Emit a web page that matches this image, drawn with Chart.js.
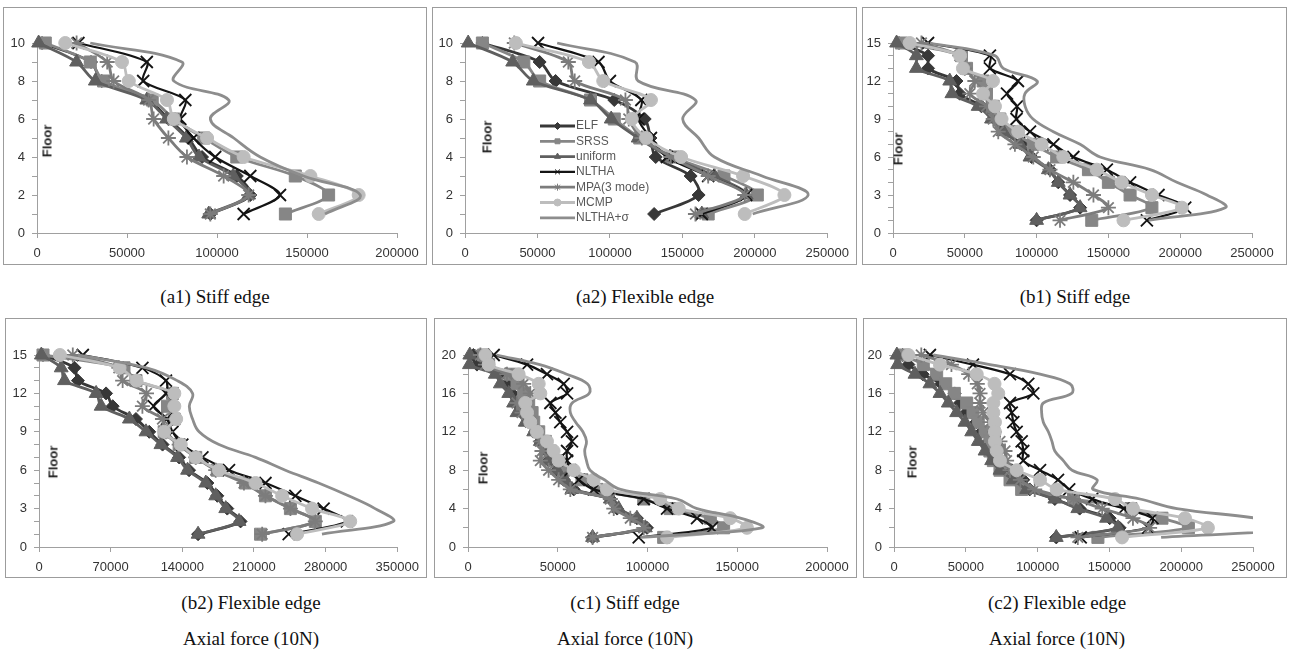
<!DOCTYPE html>
<html>
<head>
<meta charset="utf-8">
<script src="https://cdn.jsdelivr.net/npm/chart.js@4.4.0/dist/chart.umd.min.js"></script>
<style>
body { margin: 0; background: #fff; width: 1290px; height: 653px; position: relative; overflow: hidden; }
.box { position: absolute; border: 1px solid #9c9c9c; box-sizing: border-box; }
canvas { position: absolute; }
.floor { position: absolute; font: bold 13px "Liberation Sans", Arial, sans-serif; color: #222; transform: translate(-50%, -50%) rotate(-90deg); white-space: nowrap; }
.cap { position: absolute; font: 19px "Liberation Serif", "Times New Roman", serif; color: #111; transform: translate(-50%, -50%); white-space: nowrap; }
</style>
</head>
<body>
<script>
// floors (top to bottom)
const floors10 = [10, 9, 8, 7, 6, 5, 4, 3, 2, 1];
const floors15 = [15, 14, 13, 12, 11, 10, 9, 8, 7, 6, 5, 4, 3, 2, 1];
const floors20 = [20, 19, 18, 17, 16, 15, 14, 13, 12, 11, 10, 9, 8, 7, 6, 5, 4, 3, 2, 1];

const seriesNames = ['ELF', 'SRSS', 'uniform', 'NLTHA', 'MPA(3 mode)', 'MCMP', 'NLTHA+σ'];

// (a1) stiff edge, 10 floors
const a1ELF = [2800, 30000, 36000, 62000, 73000, 84000, 91700, 111000, 118500, 96300];
const a1SRSS = [4600, 29600, 37000, 64000, 76000, 92600, 111000, 143500, 162000, 138000];
const a1Uniform = [900, 22000, 32400, 61000, 72000, 83000, 90000, 109000, 117600, 95400];
const a1NLTHA = [23000, 61000, 59000, 82400, 79600, 87000, 99000, 118500, 135000, 114800];
const a1MPA = [22000, 39000, 42600, 62000, 64800, 73000, 83300, 103700, 117600, 96300];
const a1MCMP = [15700, 47200, 51000, 72200, 76000, 94500, 114800, 151900, 178700, 156500];
const a1Sigma = [29600, 80500, 76000, 106500, 96300, 109300, 124000, 148000, 179600, 160000];

// (a2) flexible edge, 10 floors
const a2ELF = [12000, 51500, 62500, 103000, 124000, 128000, 131600, 155700, 161200, 130500];
const a2SRSS = [12000, 40600, 51500, 86600, 103000, 120600, 143600, 178700, 201700, 167800];
const a2Uniform = [2200, 32900, 47100, 86600, 100900, 119500, 141400, 172000, 194000, 163400];
const a2NLTHA = [50400, 92100, 100000, 121700, 119500, 128300, 139300, 167800, 194000, 163400];
const a2MPA = [34000, 71300, 75700, 110700, 113000, 122000, 142000, 167800, 193000, 159000];
const a2MCMP = [35100, 85500, 95400, 128300, 115100, 125000, 149100, 191900, 220400, 193000];
const a2Sigma = [63600, 117300, 119500, 159000, 150200, 161200, 172100, 205000, 236800, 198500];

// (b1) stiff edge, 15 floors
const b1ELF = [4200, 24400, 24400, 44200, 46500, 61600, 70900, 77900, 89600, 96500, 109300, 115100, 123300, 130300, 100000];
const b1SRSS = [5800, 47700, 51200, 62800, 65100, 69800, 74400, 82600, 97700, 114000, 136100, 150000, 165100, 180300, 138400];
const b1Uniform = [2500, 16300, 16300, 39500, 41000, 59300, 68600, 76800, 88400, 95400, 108200, 115100, 123300, 130300, 100000];
const b1NLTHA = [24400, 67500, 67500, 87000, 79400, 86300, 86000, 95400, 111700, 125600, 148900, 165100, 184900, 203500, 176800];
const b1MPA = [19800, 46500, 50000, 57000, 53500, 65100, 69800, 73300, 84900, 97700, 109300, 125600, 139600, 150000, 116300];
const b1MCMP = [11600, 46700, 48700, 69600, 62700, 71000, 75600, 87200, 103500, 118600, 141900, 159300, 180300, 201200, 160500];
const b1Sigma = [25600, 70900, 76800, 100300, 91900, 92000, 97500, 111700, 130300, 144200, 179100, 197700, 218600, 231400, 178000];

// (b2) flexible edge, 15 floors
const b2ELF = [3900, 34700, 38000, 65500, 72000, 94700, 107700, 120700, 136900, 146600, 164500, 174200, 183900, 196900, 155400];
const b2SRSS = [3900, 83000, 94700, 130400, 125500, 132000, 122300, 136900, 153100, 174200, 201800, 221200, 245600, 269900, 216400];
const b2Uniform = [2300, 21700, 24900, 55800, 60700, 88300, 104500, 119100, 135300, 145100, 162900, 172600, 182400, 195400, 155400];
const b2NLTHA = [42800, 101000, 124000, 124000, 112000, 125000, 130400, 140000, 159600, 185600, 221200, 250400, 278000, 300700, 243900];
const b2MPA = [33000, 78000, 81700, 105000, 101000, 120600, 123900, 136900, 153100, 172600, 200200, 221200, 245600, 269900, 218000];
const b2MCMP = [20400, 78700, 95300, 132200, 132200, 134000, 122300, 138500, 153100, 175800, 211500, 237500, 266700, 304000, 252100];
const b2Sigma = [38000, 105000, 135000, 150000, 146800, 150000, 156400, 175800, 211500, 240700, 273100, 302300, 328300, 346100, 276400];

// (c1) stiff edge, 20 floors
const c1ELF = [3000, 5000, 20800, 21700, 24500, 29200, 32900, 34700, 37500, 40300, 44000, 44900, 49600, 53300, 58900, 79300, 83000, 94100, 99700, 69400];
const c1SRSS = [8700, 11500, 23600, 27300, 31000, 33800, 35700, 36600, 39400, 43100, 45900, 48700, 53300, 63500, 71900, 97900, 112700, 135000, 142400, 109000];
const c1Uniform = [1000, 800, 15200, 18000, 22700, 25400, 27300, 31900, 36600, 40300, 43100, 44900, 49600, 54200, 57900, 79300, 83900, 94100, 98800, 69400];
const c1NLTHA = [14300, 32900, 44000, 53300, 55200, 45900, 48700, 51400, 55200, 57900, 55200, 55200, 57000, 61700, 70000, 97900, 110900, 127600, 135900, 95100];
const c1MPA = [6900, 9700, 21700, 31000, 34700, 27300, 30100, 34700, 38400, 40300, 41200, 40300, 44900, 50500, 57000, 79300, 81200, 90400, 97900, 69400];
const c1MCMP = [9700, 11500, 28200, 39400, 40300, 31900, 32900, 34700, 38400, 44000, 47700, 50500, 58900, 70000, 77400, 107100, 117400, 146100, 155400, 110900];
const c1Sigma = [16000, 40000, 55000, 66500, 67500, 58000, 57000, 60000, 64000, 66000, 65000, 66000, 68000, 76000, 85000, 116400, 127600, 151700, 163800, 96000];

// (c2) flexible edge, 20 floors
const c2ELF = [6000, 10000, 20000, 33000, 42200, 46000, 50400, 57300, 61000, 66000, 70000, 75000, 82000, 90000, 94500, 112000, 129300, 150200, 157100, 113000];
const c2SRSS = [6500, 20400, 29700, 36000, 42000, 50600, 55000, 58700, 63400, 66800, 66800, 69200, 73800, 80800, 88900, 125000, 165000, 186600, 205000, 142000];
const c2Uniform = [2000, 2500, 14600, 25000, 32000, 37800, 43600, 49400, 54100, 58700, 63400, 68000, 73800, 83100, 92400, 112000, 128000, 148000, 156000, 113000];
const c2NLTHA = [25000, 55000, 80800, 93500, 97000, 80800, 82000, 83100, 85400, 88900, 90000, 90000, 101700, 114200, 122000, 138000, 160000, 180000, 177000, 130000];
const c2MPA = [19000, 40000, 52000, 58000, 59900, 59900, 62000, 66800, 70000, 73800, 77300, 78400, 80800, 88000, 98000, 125000, 145000, 166400, 178000, 128000];
const c2MCMP = [10000, 32000, 57600, 70000, 72600, 69200, 69200, 70300, 70300, 70300, 71500, 73800, 85400, 101700, 113300, 153900, 166400, 202600, 218600, 158800];
const c2Sigma = [27400, 66800, 101700, 122500, 123700, 104000, 102800, 104000, 107500, 110000, 112000, 117900, 124000, 141400, 138600, 171300, 197000, 252000, 285000, 186000];

// styles per series
const seriesStyle = [
    { color: '#383838', point: 'rectRot', radius: 6.5, width: 2.8 },
    { color: '#868686', point: 'rect', radius: 8.5, width: 2.8 },
    { color: '#5f5f5f', point: 'triangle', radius: 8, width: 2.8 },
    { color: '#141414', point: 'crossRot', radius: 8.5, width: 2.2 },
    { color: '#7c7c7c', point: 'star', radius: 7.5, width: 2.8 },
    { color: '#bdbdbd', point: 'circle', radius: 6.5, width: 2.8 },
    { color: '#8d8d8d', point: false, radius: 0, width: 2.8 }
];

const panels = [
    { floors: floors10, series: [a1ELF, a1SRSS, a1Uniform, a1NLTHA, a1MPA, a1MCMP, a1Sigma],
      xMax: 200000, xStep: 50000, yMax: 10, yMajor: 2, yMinor: 1,
      box: [3, 7, 424, 258], area: [37, 397, 43, 233], floorAt: [47, 141],
      caption: ['(a1) Stiff edge'], capX: 215, capY: 297 },
    { floors: floors10, series: [a2ELF, a2SRSS, a2Uniform, a2NLTHA, a2MPA, a2MCMP, a2Sigma],
      xMax: 250000, xStep: 50000, yMax: 10, yMajor: 2, yMinor: 1,
      box: [432, 7, 425, 258], area: [465, 845, 43, 233], floorAt: [487, 137], legend: true,
      caption: ['(a2) Flexible edge'], capX: 645, capY: 297 },
    { floors: floors15, series: [b1ELF, b1SRSS, b1Uniform, b1NLTHA, b1MPA, b1MCMP, b1Sigma],
      xMax: 250000, xStep: 50000, yMax: 15, yMajor: 3, yMinor: 1,
      box: [862, 7, 425, 258], area: [893, 1252, 43, 233], floorAt: [898, 149],
      caption: ['(b1) Stiff edge'], capX: 1075, capY: 297 },
    { floors: floors15, series: [b2ELF, b2SRSS, b2Uniform, b2NLTHA, b2MPA, b2MCMP, b2Sigma],
      xMax: 350000, xStep: 70000, yMax: 15, yMajor: 3, yMinor: 1,
      box: [5, 318, 422, 260], area: [39, 399, 355, 547], floorAt: [53, 462],
      caption: ['(b2) Flexible edge', 'Axial force (10N)'], capX: 251, capY: 603 },
    { floors: floors20, series: [c1ELF, c1SRSS, c1Uniform, c1NLTHA, c1MPA, c1MCMP, c1Sigma],
      xMax: 200000, xStep: 50000, yMax: 20, yMajor: 4, yMinor: 2,
      box: [434, 318, 423, 260], area: [468, 827, 355, 547], floorAt: [483, 468],
      caption: ['(c1) Stiff edge', 'Axial force (10N)'], capX: 625, capY: 603 },
    { floors: floors20, series: [c2ELF, c2SRSS, c2Uniform, c2NLTHA, c2MPA, c2MCMP, c2Sigma],
      xMax: 250000, xStep: 50000, yMax: 20, yMajor: 4, yMinor: 2,
      box: [863, 318, 424, 260], area: [894, 1253, 355, 547], floorAt: [912, 462],
      caption: ['(c2) Flexible edge', 'Axial force (10N)'], capX: 1057, capY: 603 }
];

// legend drawn inside the plot area, like the original
const insideLegend = {
    id: 'insideLegend',
    afterDatasetsDraw(chart, args, opts) {
        if (!opts.show) return;
        const ctx = chart.ctx;
        const area = chart.chartArea;
        ctx.save();
        chart.data.datasets.forEach((ds, i) => {
            const st = seriesStyle[i];
            const y = area.top + 83 + i * 15.3;
            const x0 = area.left + 75;
            const x1 = x0 + 35;
            ctx.strokeStyle = st.color;
            ctx.lineWidth = st.width;
            ctx.beginPath();
            ctx.moveTo(x0, y);
            ctx.lineTo(x1, y);
            ctx.stroke();
            if (st.point) {
                ctx.fillStyle = st.color;
                ctx.lineWidth = 1;
                Chart.helpers.drawPoint(ctx, { pointStyle: st.point, radius: 3.5, borderWidth: 1 }, (x0 + x1) / 2, y);
            }
            ctx.fillStyle = '#595959';
            ctx.font = '12px "Liberation Sans", Arial, sans-serif';
            ctx.textBaseline = 'middle';
            ctx.fillText(ds.label, x1 + 1, y);
        });
        ctx.restore();
    }
};

panels.forEach((p, n) => {
    const [bx, by, bw, bh] = p.box;
    const [al, ar, at, ab] = p.area;

    const border = document.createElement('div');
    border.className = 'box';
    Object.assign(border.style, { left: bx + 'px', top: by + 'px', width: bw + 'px', height: bh + 'px' });
    document.body.appendChild(border);

    const canvas = document.createElement('canvas');
    canvas.width = bw;
    canvas.height = bh;
    Object.assign(canvas.style, { left: bx + 'px', top: by + 'px', width: bw + 'px', height: bh + 'px' });
    document.body.appendChild(canvas);

    const fl = document.createElement('div');
    fl.className = 'floor';
    fl.textContent = 'Floor';
    fl.style.left = p.floorAt[0] + 'px';
    fl.style.top = p.floorAt[1] + 'px';
    document.body.appendChild(fl);

    p.caption.forEach((t, k) => {
        const c = document.createElement('div');
        c.className = 'cap';
        c.textContent = t;
        c.style.left = p.capX + 'px';
        c.style.top = (p.capY + k * 36) + 'px';
        document.body.appendChild(c);
    });

    const datasets = p.series.map((vals, i) => {
        const st = seriesStyle[i];
        return {
            label: seriesNames[i],
            data: p.floors.map((f, k) => ({ x: vals[k], y: f })),
            showLine: true,
            borderColor: st.color,
            backgroundColor: st.color,
            borderWidth: st.width,
            pointStyle: st.point,
            pointRadius: st.radius,
            pointBorderWidth: (st.point === 'crossRot' || st.point === 'star') ? 1.8 : 1,
            pointBackgroundColor: st.color,
            pointBorderColor: st.color,
            tension: i === 6 ? 0.4 : 0.3,
            order: 6 - i,
            clip: { left: 10, top: 10, right: 0, bottom: 10 }
        };
    });

    const axisGrey = '#a0a0a0';
    const tickFont = { family: '"Liberation Sans", Arial, sans-serif', size: 13 };

    new Chart(canvas.getContext('2d'), {
        type: 'scatter',
        data: { datasets: datasets },
        options: {
            responsive: false,
            animation: false,
            events: [],
            layout: {
                padding: { left: 0, top: at - by, right: bx + bw - ar, bottom: 0 }
            },
            scales: {
                x: {
                    type: 'linear',
                    min: 0,
                    max: p.xMax,
                    afterFit: (scale) => { scale.height = by + bh - ab; },
                    grid: { drawOnChartArea: false, drawTicks: true, tickLength: 5, color: axisGrey },
                    border: { display: true, color: axisGrey },
                    ticks: {
                        stepSize: p.xStep,
                        padding: 8,
                        color: '#333333',
                        font: tickFont,
                        maxRotation: 0,
                        autoSkip: false,
                        callback: (v) => String(v)
                    }
                },
                y: {
                    type: 'linear',
                    min: 0,
                    max: p.yMax,
                    afterFit: (scale) => { scale.width = al - bx; },
                    grid: { drawOnChartArea: false, drawTicks: true, tickLength: 5, color: axisGrey },
                    border: { display: true, color: axisGrey },
                    ticks: {
                        stepSize: p.yMinor,
                        padding: 7,
                        color: '#333333',
                        font: tickFont,
                        autoSkip: false,
                        callback: (v) => (v % p.yMajor === 0 ? String(v) : '')
                    }
                }
            },
            plugins: {
                legend: { display: false },
                tooltip: { enabled: false },
                insideLegend: { show: !!p.legend }
            }
        },
        plugins: [insideLegend]
    });
});
</script>
</body>
</html>
